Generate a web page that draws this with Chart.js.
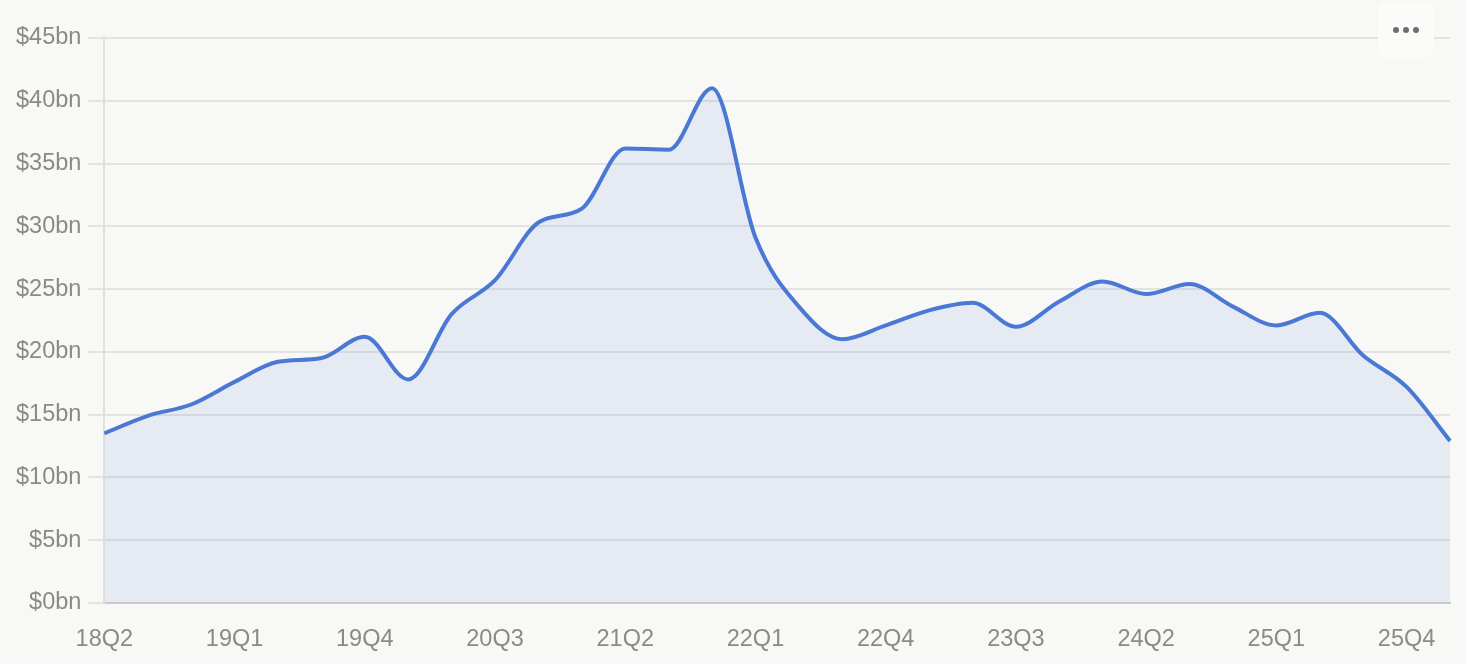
<!DOCTYPE html>
<html>
<head>
<meta charset="utf-8">
<script src="https://cdn.jsdelivr.net/npm/chart.js@4/dist/chart.umd.min.js"></script>
<style>
  html, body { margin: 0; padding: 0; background: #f8f8f6; }
  #wrap { position: relative; width: 1466px; height: 664px; }
  #more { position: absolute; left: 1378px; top: 2px; width: 56px; height: 56px; border-radius: 10px; background: #fbfbfa; display: flex; align-items: center; justify-content: center; gap: 4px; }
  #more span { width: 6px; height: 6px; border-radius: 50%; background: #6e6e6e; display: block; }
</style>
</head>
<body>
<div id="wrap">
  <canvas id="c" width="1466" height="664"></canvas>
  <div id="more"><span></span><span></span><span></span></div>
</div>
<script>
const categories = ["18Q2","18Q3","18Q4","19Q1","19Q2","19Q3","19Q4","20Q1","20Q2","20Q3","20Q4","21Q1","21Q2","21Q3","21Q4","22Q1","22Q2","22Q3","22Q4","23Q1","23Q2","23Q3","23Q4","24Q1","24Q2","24Q3","24Q4","25Q1","25Q2","25Q3","25Q4","26Q1"];
const values = [13.5,14.9,15.8,17.6,19.2,19.5,21.2,17.8,23.0,25.7,30.3,31.4,36.2,36.1,41.0,29.1,23.6,21.0,22.1,23.3,23.9,22.0,24.0,25.6,24.6,25.4,23.6,22.1,23.1,19.7,17.2,12.9];
const yTicks = [0,5,10,15,20,25,30,35,40,45];

const ctx = document.getElementById('c');
new Chart(ctx, {
  type: 'line',
  data: {
    labels: categories,
    datasets: [{
      data: values,
      borderColor: '#4a78d4',
      backgroundColor: 'rgba(74,120,212,0.1)',
      borderWidth: 4,
      fill: 'origin',
      pointRadius: 0,
      cubicInterpolationMode: 'monotone'
    }]
  },
  options: {
    responsive: false,
    animation: false,
    devicePixelRatio: 1,
    layout: { padding: { left: 9, right: 16, top: 38, bottom: 10 } },
    plugins: { legend: { display: false }, tooltip: { enabled: false } },
    scales: {
      x: {
        grid: { display: false, drawTicks: true, tickLength: 23 },
        border: { display: true, color: '#cbccce', width: 2 },
        ticks: {
          autoSkip: false,
          maxRotation: 0,
          padding: 0,
          color: '#8a8a86',
          font: { family: 'Liberation Sans, Arial, sans-serif', size: 23.5 },
          callback: function(v, i) { return i % 3 === 0 ? categories[i] : ''; }
        }
      },
      y: {
        min: yTicks[0],
        max: yTicks[yTicks.length - 1],
        afterBuildTicks: function(axis) { axis.ticks = yTicks.map(v => ({ value: v })); },
        grid: { color: '#e3e3e1', lineWidth: 2, tickLength: 16 },
        border: { display: true, color: '#e0e0de', width: 2 },
        ticks: {
          padding: 7,
          color: '#8a8a86',
          font: { family: 'Liberation Sans, Arial, sans-serif', size: 23.5 },
          callback: function(v) { return '$' + v + 'bn'; }
        }
      }
    }
  }
});
</script>
</body>
</html>
